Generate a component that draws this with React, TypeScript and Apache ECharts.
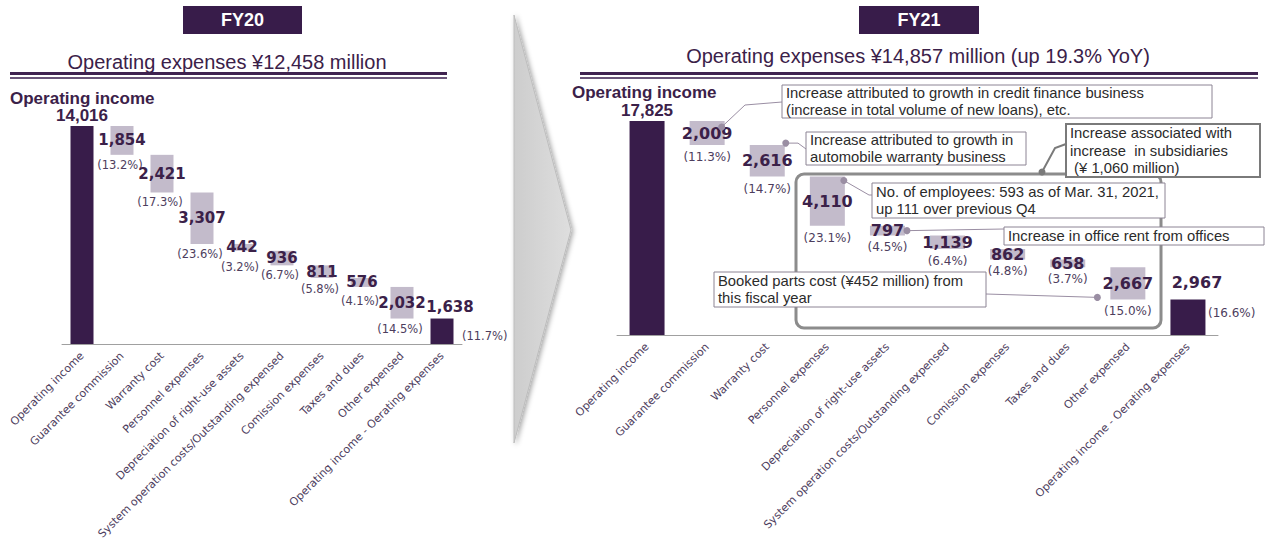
import React, { useEffect, useRef } from 'react';
import * as echarts from 'echarts';

const categories = [
  'Operating income',
  'Guarantee commission',
  'Warranty cost',
  'Personnel expenses',
  'Depreciation of right-use assets',
  'System operation costs/Outstanding expensed',
  'Comission expenses',
  'Taxes and dues',
  'Other expensed',
  'Operating income - Oerating expenses',
];

const fy20Income = 14016;
const fy20Expenses = [1854, 2421, 3307, 442, 936, 811, 576, 2032];
const fy20ExpensePct = ['13.2%', '17.3%', '23.6%', '3.2%', '6.7%', '5.8%', '4.1%', '14.5%'];
const fy20Result = 1638;
const fy20ResultPct = '11.7%';

const fy21Income = 17825;
const fy21Expenses = [2009, 2616, 4110, 797, 1139, 862, 658, 2667];
const fy21ExpensePct = ['11.3%', '14.7%', '23.1%', '4.5%', '6.4%', '4.8%', '3.7%', '15.0%'];
const fy21Result = 2967;
const fy21ResultPct = '16.6%';

const DARK = '#381c4a';
const LIGHT = '#c3bbcb';
const TXT = '#3b2149';
const PCT = '#4d3d5d';
const NOTE_LINE = '#9a8ea3';

function waterfall(income: number, expenses: number[], result: number) {
  const base: number[] = [0];
  const vals: number[] = [income];
  let rem = income;
  for (const e of expenses) {
    rem -= e;
    base.push(rem);
    vals.push(e);
  }
  base.push(0);
  vals.push(result);
  return { base, vals };
}

const fmt = (v: number) => v.toLocaleString('en-US');

type Cfg = {
  barWidth: number;
  valSize: number;
  pctSize: number;
  pctDist: number;
  pctOffset: number[];
  lastDist: number;
  lastOffset: number[];
  resOffset: number[];
  plotHeight: number;
  smallBoost: number;
};

function seriesFor(
  idx: number,
  income: number,
  expenses: number[],
  pcts: string[],
  result: number,
  resultPct: string,
  cfg: Cfg
) {
  const { base, vals } = waterfall(income, expenses, result);
  const n = vals.length;
  const pxPerUnit = cfg.plotHeight / income;
  return [
    {
      type: 'bar',
      name: 'base' + idx,
      xAxisIndex: idx,
      yAxisIndex: idx,
      stack: 's' + idx,
      barWidth: cfg.barWidth,
      silent: true,
      itemStyle: { color: 'rgba(0,0,0,0)' },
      data: base.map((b, i) => {
        // push the share label a little lower when the bar is too short to hold its value label
        const barPx = vals[i] * pxPerUnit;
        const extra = Math.max(0, 14 - barPx) * cfg.smallBoost;
        return {
          value: b,
          label:
            i > 0 && i < n - 1
              ? {
                  show: true,
                  position: 'insideTop',
                  distance: cfg.pctDist,
                  offset: [cfg.pctOffset[0], cfg.pctOffset[1] + extra],
                  formatter: '(' + pcts[i - 1] + ')',
                  fontSize: cfg.pctSize,
                  color: PCT,
                  fontFamily: 'DejaVu Sans',
                }
              : { show: false },
        };
      }),
    },
    {
      type: 'bar',
      name: 'val' + idx,
      xAxisIndex: idx,
      yAxisIndex: idx,
      stack: 's' + idx,
      barWidth: cfg.barWidth,
      silent: true,
      data: vals.map((v, i) => {
        const first = i === 0;
        const last = i === n - 1;
        return {
          value: v,
          itemStyle: { color: first || last ? DARK : LIGHT },
          label: {
            show: true,
            position: first || last ? 'top' : 'inside',
            distance: first ? 2 : last ? cfg.lastDist : 5,
            offset: last ? cfg.lastOffset : [0, 0],
            formatter: fmt(v),
            color: TXT,
            fontWeight: 'bold',
            fontFamily: first ? 'Liberation Sans' : 'DejaVu Sans',
            fontSize: first ? 17 : cfg.valSize,
          },
        };
      }),
    },
    {
      type: 'scatter',
      xAxisIndex: idx,
      yAxisIndex: idx,
      symbolSize: 0,
      silent: true,
      itemStyle: { opacity: 1, color: PCT },
      data: [[n - 1, result / 2]],
      label: {
        show: true,
        position: 'right',
        distance: 20,
        offset: cfg.resOffset,
        formatter: '(' + resultPct + ')',
        fontSize: cfg.pctSize,
        color: PCT,
        opacity: 1,
        fontFamily: 'DejaVu Sans',
      },
    },
  ];
}

const xAxisCommon = {
  type: 'category',
  data: categories,
  axisLine: { lineStyle: { color: '#a0a0a0', width: 1 } },
  axisTick: { show: false },
  axisLabel: {
    rotate: 45,
    interval: 0,
    margin: 10,
    fontSize: 11,
    color: PCT,
    fontFamily: 'DejaVu Sans',
  },
};

function textEl(x: number, y: number, text: string, style: any) {
  return {
    type: 'text',
    x,
    y,
    z: 20,
    style: { text, ...style },
  };
}

function noteBox(x: number, y: number, w: number, h: number, lines: string[], border = 1, stroke = '#8c8494') {
  return [
    {
      type: 'rect',
      z: 15,
      shape: { x, y, width: w, height: h },
      style: { fill: '#fff', stroke, lineWidth: border },
    },
    textEl(x + 4, y + h / 2, lines.join('\n'), {
      fill: '#2b2b2b',
      fontSize: 14.8,
      fontFamily: 'Liberation Sans',
      lineHeight: 17.5,
      textAlign: 'left',
      textVerticalAlign: 'middle',
      align: 'left',
      verticalAlign: 'middle',
    }),
  ];
}

export default function App() {
  const ref = useRef<HTMLDivElement>(null);

  useEffect(() => {
    if (!ref.current) return;
    const chart = echarts.init(ref.current, null, { renderer: 'svg' });

    const leftCfg: Cfg = {
      barWidth: 23,
      valSize: 15,
      pctSize: 11.5,
      pctDist: 4,
      pctOffset: [-2, 0],
      lastDist: 4,
      lastOffset: [8, 0],
      resOffset: [0, 5],
      plotHeight: 218,
      smallBoost: 0.8,
    };
    const rightCfg: Cfg = {
      barWidth: 35,
      valSize: 16,
      pctSize: 12,
      pctDist: 6,
      pctOffset: [0, 0],
      lastDist: 9,
      lastOffset: [9, 0],
      resOffset: [0, -4],
      plotHeight: 214,
      smallBoost: 0,
    };

    const arrowFill = new echarts.graphic.LinearGradient(0, 0, 1, 0, [
      { offset: 0, color: '#cdcdcd' },
      { offset: 1, color: '#dedede' },
    ]);

    const titleStyle = {
      fill: TXT,
      fontSize: 20,
      fontFamily: 'Liberation Sans',
      textAlign: 'center',
      textVerticalAlign: 'middle',
      align: 'center',
      verticalAlign: 'middle',
    };
    const fyStyle = {
      fill: '#fff',
      fontSize: 18,
      fontWeight: 'bold',
      fontFamily: 'Liberation Sans',
      textAlign: 'center',
      textVerticalAlign: 'middle',
      align: 'center',
      verticalAlign: 'middle',
    };
    const headStyle = {
      fill: TXT,
      fontSize: 17,
      fontWeight: 'bold',
      fontFamily: 'Liberation Sans',
      textAlign: 'left',
      textVerticalAlign: 'middle',
      align: 'left',
      verticalAlign: 'middle',
    };

    const staticGraphics: any[] = [
      {
        type: 'polygon',
        z: 1,
        shape: { points: [[514, 15], [571, 230], [514, 443]] },
        style: {
          fill: arrowFill,
          stroke: '#bdbdbd',
          lineWidth: 1,
          shadowBlur: 5,
          shadowColor: 'rgba(0,0,0,0.35)',
          shadowOffsetX: 2,
          shadowOffsetY: 1,
        },
      },
      { type: 'rect', z: 5, shape: { x: 183, y: 6, width: 119, height: 28 }, style: { fill: DARK } },
      textEl(242.5, 20, 'FY20', fyStyle),
      { type: 'rect', z: 5, shape: { x: 859, y: 6, width: 120, height: 28 }, style: { fill: DARK } },
      textEl(919, 20, 'FY21', fyStyle),
      textEl(227, 62, 'Operating expenses ¥12,458 million', titleStyle),
      textEl(918, 56, 'Operating expenses ¥14,857 million (up 19.3% YoY)', titleStyle),
      { type: 'rect', z: 5, shape: { x: 10, y: 72, width: 437, height: 3 }, style: { fill: '#3f2350' } },
      { type: 'rect', z: 5, shape: { x: 10, y: 77, width: 437, height: 2 }, style: { fill: '#6a5579' } },
      { type: 'rect', z: 5, shape: { x: 580, y: 72, width: 678, height: 3 }, style: { fill: '#3f2350' } },
      { type: 'rect', z: 5, shape: { x: 580, y: 77, width: 678, height: 2 }, style: { fill: '#6a5579' } },
      textEl(10, 98, 'Operating income', headStyle),
      textEl(572, 92, 'Operating income', headStyle),
    ];

    const option: any = {
      animation: false,
      backgroundColor: '#ffffff',
      grid: [
        { left: 62, width: 400, top: 126, bottom: 199, containLabel: false },
        { left: 617, width: 601, top: 121, bottom: 208, containLabel: false },
      ],
      xAxis: [
        { ...xAxisCommon, gridIndex: 0 },
        { ...xAxisCommon, gridIndex: 1 },
      ],
      yAxis: [
        { type: 'value', gridIndex: 0, min: 0, max: fy20Income, show: false, splitLine: { show: false } },
        { type: 'value', gridIndex: 1, min: 0, max: fy21Income, show: false, splitLine: { show: false } },
      ],
      series: [
        ...seriesFor(0, fy20Income, fy20Expenses, fy20ExpensePct, fy20Result, fy20ResultPct, leftCfg),
        ...seriesFor(1, fy21Income, fy21Expenses, fy21ExpensePct, fy21Result, fy21ResultPct, rightCfg),
      ],
      graphic: { elements: staticGraphics },
    };

    chart.setOption(option);

    // annotation dots computed from the right chart's bar geometry
    const { base, vals } = waterfall(fy21Income, fy21Expenses, fy21Result);
    const half = rightCfg.barWidth / 2;
    const px = (i: number, v: number) =>
      chart.convertToPixel({ xAxisIndex: 1, yAxisIndex: 1 } as any, [i, v]) as number[];
    const topRight = (i: number) => {
      const p = px(i, base[i] + vals[i]);
      return [p[0] + half, p[1]];
    };
    const midRight = (i: number) => {
      const p = px(i, base[i] + vals[i] / 2);
      return [p[0] + half, p[1]];
    };
    const bottomLeft = (i: number) => {
      const p = px(i, base[i]);
      return [p[0] - half, p[1]];
    };

    const d1 = topRight(1);
    const dot1 = [d1[0] - 3, d1[1] + 6];
    const d2 = topRight(2);
    const dot2 = [d2[0] + 1, d2[1] - 2];
    const d3 = topRight(3);
    const dot3 = [d3[0] - 1, d3[1] + 4];
    const d4 = midRight(4);
    const dot4 = [d4[0] + 2, d4[1]];
    const d8 = bottomLeft(8);
    const dot8 = [d8[0] - 13, d8[1] - 2];
    const dotSub = [1042, 172];

    const line = (pts: number[][]) => ({
      type: 'polyline',
      z: 12,
      shape: { points: pts },
      style: { stroke: NOTE_LINE, lineWidth: 1, fill: 'none' },
    });
    const dot = (p: number[]) => ({
      type: 'circle',
      z: 13,
      shape: { cx: p[0], cy: p[1], r: 3.5 },
      style: { fill: NOTE_LINE },
    });

    const notes: any[] = [
      {
        type: 'rect',
        z: 10,
        shape: { x: 796, y: 174, width: 365, height: 154, r: 8 },
        style: { fill: 'none', stroke: '#8c8c8c', lineWidth: 3 },
      },
      line([dot1, [745, 105], [782, 102]]),
      dot(dot1),
      ...noteBox(782, 85, 430, 33, [
        'Increase attributed to growth in credit finance business',
        '(increase in total volume of new loans), etc.',
      ]),
      line([dot2, [798, dot2[1]], [806, 149]]),
      dot(dot2),
      ...noteBox(806, 132, 220, 33, ['Increase attributed to growth in', 'automobile warranty business']),
      { ...line([dotSub, [1055, 148], [1066, 144]]), style: { stroke: '#7a7a7a', lineWidth: 2, fill: 'none' } },
      { ...dot(dotSub), style: { fill: '#7a7a7a' } },
      ...noteBox(
        1066,
        124,
        194,
        53,
        ['Increase associated with', 'increase  in subsidiaries', ' (¥ 1,060 million)'],
        2,
        '#7a7a7a'
      ),
      line([dot3, [869, 195], [872, 195]]),
      dot(dot3),
      ...noteBox(872, 183, 293, 35, ['No. of employees: 593 as of Mar. 31, 2021,', 'up 111 over previous Q4']),
      line([dot4, [1004, 229]]),
      dot(dot4),
      ...noteBox(1004, 227, 260, 18, ['Increase in office rent from offices']),
      line([[986, 294], dot8]),
      dot(dot8),
      ...noteBox(714, 272, 272, 35, ['Booked parts cost (¥452 million) from', 'this fiscal year']),
    ];

    chart.setOption({ graphic: { elements: [...staticGraphics, ...notes] } });

    return () => {
      chart.dispose();
    };
  }, []);

  return (
    <div
      ref={ref}
      style={{ position: 'fixed', left: 0, top: 0, width: 1270, height: 543, background: '#fff' }}
    />
  );
}
